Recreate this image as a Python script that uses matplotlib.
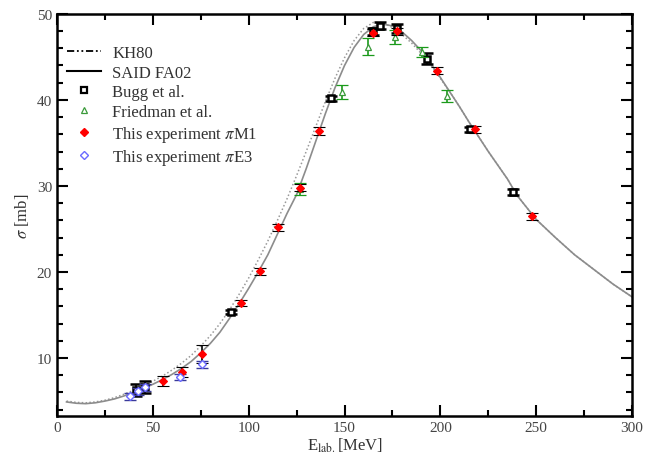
import matplotlib
matplotlib.use("Agg")
import matplotlib.pyplot as plt
from matplotlib.lines import Line2D
from matplotlib.ticker import MultipleLocator

plt.rcParams['font.family'] = ['Liberation Serif', 'DejaVu Serif']
plt.rcParams['mathtext.fontset'] = 'stix'

# Theory curves
said_E = [5, 10, 15, 20, 25, 30, 35, 40, 45, 50, 55, 60, 65, 70, 75, 80, 85, 90, 95, 100,
          105, 110, 115, 120, 125, 130, 135, 140, 145, 150, 155, 160, 165, 170, 175, 180,
          185, 190, 195, 200, 205, 210, 215, 220, 225, 230, 235, 240, 245, 250, 260, 270,
          280, 290, 300]
said_s = [4.9, 4.75, 4.7, 4.8, 5.0, 5.25, 5.6, 6.0, 6.45, 6.95, 7.5, 8.1, 8.8, 9.6, 10.6,
          11.7, 13.0, 14.6, 16.3, 18.1, 20.0, 22.0, 24.4, 26.8, 29.0, 32.0, 35.2, 38.4, 41.4,
          44.0, 46.1, 47.6, 48.5, 48.8, 48.6, 47.9, 46.9, 45.7, 44.2, 42.6, 40.9, 39.2, 37.4,
          35.7, 34.0, 32.4, 30.8, 28.9, 27.5, 26.1, 24.0, 22.0, 20.3, 18.6, 17.1]
kh_E = [5, 10, 15, 20, 25, 30, 35, 40, 45, 50, 55, 60, 65, 70, 75, 80, 85, 90, 95, 100,
        105, 110, 115, 120, 125, 130, 135, 140, 145, 150, 155, 160, 165, 170, 175, 180,
        185, 190, 195, 200, 205, 210, 215, 220, 225, 230, 235, 240, 245, 250, 260, 270,
        280, 290, 300]
kh_s = [5.0, 4.85, 4.8, 4.9, 5.1, 5.4, 5.8, 6.25, 6.75, 7.3, 7.9, 8.6, 9.4, 10.3, 11.4,
        12.6, 14.0, 15.6, 17.4, 19.3, 21.4, 23.6, 26.0, 28.5, 31.2, 34.0, 36.9, 39.8, 42.5,
        44.9, 46.9, 48.3, 49.0, 49.0, 48.4, 47.6, 46.6, 45.4, 44.0, 42.5, 40.9, 39.2, 37.4,
        35.7, 34.0, 32.4, 30.8, 28.9, 27.5, 26.1, 24.0, 22.0, 20.3, 18.6, 17.1]

# Bugg et al.
bugg_E = [41, 46, 90.8, 142.9, 164.8, 168.5, 177.4, 193.0, 215.4, 237.9]
bugg_s = [6.3, 6.6, 15.35, 40.2, 48.0, 48.6, 48.3, 44.8, 36.6, 29.3]
bugg_err = [0.7, 0.7, 0.2, 0.3, 0.4, 0.4, 0.5, 0.6, 0.3, 0.3]

# Friedman et al.
fr_E = [126.8, 148.7, 162.2, 176.3, 190.4, 203.4]
fr_s = [29.65, 40.9, 46.2, 47.3, 45.6, 40.5]
fr_err = [0.7, 0.8, 1.0, 0.8, 0.6, 0.7]

# This experiment piM1
m1_E = [55.3, 65.2, 75.6, 96.0, 105.9, 115.3, 126.8, 136.7, 164.8, 177.4, 198.2, 218.0, 247.8]
m1_s = [7.33, 8.37, 10.47, 16.4, 20.1, 25.2, 29.8, 36.4, 47.8, 48.0, 43.4, 36.6, 26.5]
m1_err = [0.6, 0.6, 1.0, 0.4, 0.4, 0.4, 0.4, 0.5, 0.4, 0.4, 0.4, 0.4, 0.4]

# This experiment piE3
e3_E = [38.1, 42.3, 45.9, 64.2, 75.6]
e3_s = [5.58, 6.16, 6.6, 7.8, 9.3]
e3_err = [0.4, 0.4, 0.4, 0.4, 0.4]

fig = plt.figure(figsize=(6.47, 4.64), dpi=100)
ax = fig.add_axes([0.088, 0.101, 0.889, 0.867])

ax.plot(kh_E, kh_s, color='0.6', lw=1.1, ls=(0, (1, 1.5)), zorder=2)
ax.plot(said_E, said_s, color='0.55', lw=1.2, ls='-', zorder=2)

ax.errorbar(bugg_E, bugg_s, yerr=bugg_err, fmt='s', ms=5, mfc='white', mec='black',
            mew=1.8, ecolor='black', elinewidth=1.2, capsize=4, capthick=1.5, zorder=3)
ax.errorbar(fr_E, fr_s, yerr=fr_err, fmt='^', ms=4.5, mfc='white', mec='#3a9a3a',
            mew=0.9, ecolor='#1a9a1a', elinewidth=1.2, capsize=4, capthick=1.5, zorder=4)
ax.errorbar(m1_E, m1_s, yerr=m1_err, fmt='D', ms=4, mfc='red', mec='red',
            mew=0.8, ecolor='black', elinewidth=1.2, capsize=4, capthick=1.5, zorder=5)
ax.errorbar(e3_E, e3_s, yerr=e3_err, fmt='D', ms=4, mfc='white', mec='#6a6aff',
            mew=1.0, ecolor='#3a3a9a', elinewidth=1.0, capsize=4, capthick=1.3, zorder=5)

ax.set_xlim(0, 300)
ax.set_ylim(3.25, 50)
ax.xaxis.set_major_locator(MultipleLocator(50))
ax.xaxis.set_minor_locator(MultipleLocator(25))
ax.yaxis.set_major_locator(MultipleLocator(10))
ax.yaxis.set_minor_locator(MultipleLocator(2))
ax.tick_params(which='both', direction='in', top=True, right=True, width=1.5,
               labelsize=11, labelcolor='#444444')
ax.tick_params(which='major', length=8)
ax.tick_params(which='minor', length=4)
for s in ax.spines.values():
    s.set_linewidth(1.8)

ax.set_xlabel(r'E$_{\rm lab.}$[MeV]', fontsize=12, color='#333333', labelpad=1)
ax.set_ylabel(r'$\sigma$ [mb]', fontsize=12, color='#333333', labelpad=4)

handles = [
    Line2D([], [], color='black', lw=1.3, ls=(0, (4, 1.5, 1, 1.5, 1, 1.5))),
    Line2D([], [], color='black', lw=1.5, ls='-'),
    Line2D([], [], marker='s', ls='none', ms=4.5, mfc='white', mec='black', mew=1.6),
    Line2D([], [], marker='^', ls='none', ms=4.5, mfc='white', mec='#3a9a3a', mew=0.9),
    Line2D([], [], marker='D', ls='none', ms=4, mfc='red', mec='red'),
    Line2D([], [], marker='D', ls='none', ms=4, mfc='white', mec='#6a6aff', mew=1.0),
]
labels = ['KH80', 'SAID FA02', 'Bugg et al.', 'Friedman et al.',
          r'This experiment $\pi$M1', r'This experiment $\pi$E3']
ax.legend(handles, labels, loc='upper left', bbox_to_anchor=(-0.008, 0.96), frameon=False,
          fontsize=12, handlelength=2.0, handletextpad=0.7, labelspacing=0.22,
          labelcolor='#333333')

fig.savefig('out.png', dpi=100)
